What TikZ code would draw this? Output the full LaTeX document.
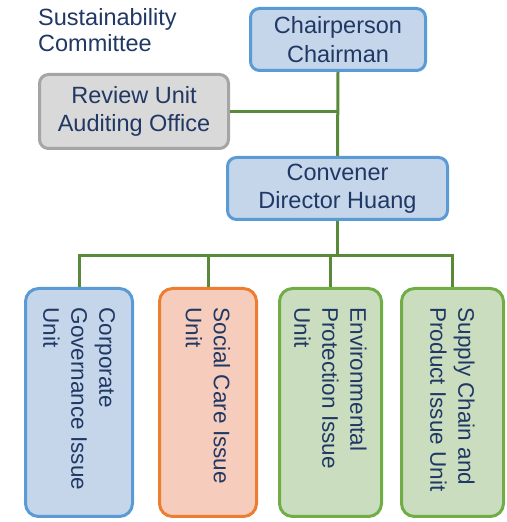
\documentclass[tikz,border=0pt]{standalone}
\usepackage{fontspec}
\setmainfont{Liberation Sans}
\usetikzlibrary{calc}
\definecolor{navy}{HTML}{203864}
\definecolor{bluefill}{HTML}{C5D5EA}
\definecolor{blueline}{HTML}{5B9BD5}
\definecolor{grayfill}{HTML}{D9D9D9}
\definecolor{grayline}{HTML}{A5A5A5}
\definecolor{peachfill}{HTML}{F6CDBD}
\definecolor{orangeline}{HTML}{ED7D31}
\definecolor{greenfill}{HTML}{CBDDBF}
\definecolor{greenline}{HTML}{70AD47}
\definecolor{wire}{HTML}{588A3A}
\begin{document}
\begin{tikzpicture}[x=1pt,y=1pt,
        box/.style={draw,line width=3pt,rounded corners=9pt,text=navy,
            align=center,inner sep=0pt,
            font=\fontsize{23.5}{28.5}\selectfont},
        unitbox/.style={box,rounded corners=13pt,rotate=-90,
            inner xsep=19pt,text width=190pt,align=flush left,
            font=\fontsize{22.5}{28}\selectfont},
        link/.style={draw=wire,line width=3pt}]
    \useasboundingbox (0,0) rectangle (506,522);
    \node[anchor=north west,inner sep=0pt,align=left,text=navy,
        font=\fontsize{23.5}{26}\selectfont] (title) at (38,514)
        {Sustainability\\Committee};
    \node[box,fill=bluefill,draw=blueline,minimum width=175pt,minimum height=62pt]
        (chair) at (338,482.5) {Chairperson\\Chairman};
    \node[box,fill=grayfill,draw=grayline,minimum width=189pt,minimum height=74pt]
        (review) at (134,410.5) {Review Unit\\Auditing Office};
    \node[box,fill=bluefill,draw=blueline,minimum width=220pt,minimum height=62pt]
        (convener) at (337.5,333.5) {Convener\\Director Huang};
    \node[unitbox,fill=bluefill,draw=blueline,minimum height=107pt]
        (cg) at (79,119.5) {Corporate\\Governance Issue\\Unit};
    \node[unitbox,fill=peachfill,draw=orangeline,minimum height=97pt]
        (sc) at (208,119.5) {Social Care Issue\\Unit};
    \node[unitbox,fill=greenfill,draw=greenline,minimum height=102pt]
        (ep) at (330.5,119.5) {Environmental\\Protection Issue\\Unit};
    \node[unitbox,fill=greenfill,draw=greenline,minimum height=102pt]
        (sp) at (452.5,119.5) {Supply Chain and\\\mbox{Product Issue Unit}};
    % chairperson down to convener, auditing office joins on the side
    \draw[link] (chair.south) -- (convener.north);
    \draw[link] (review.east) -- (review.east -| chair.south);
    % bus from convener to the four units
    \coordinate (bus) at ($(convener.south)+(0,-34.5)$);
    \draw[link] (convener.south) -- (bus);
    \foreach \u in {cg,sc,ep,sp}
        \draw[link,line join=miter] (bus) -| (\u.west);
\end{tikzpicture}
\end{document}
